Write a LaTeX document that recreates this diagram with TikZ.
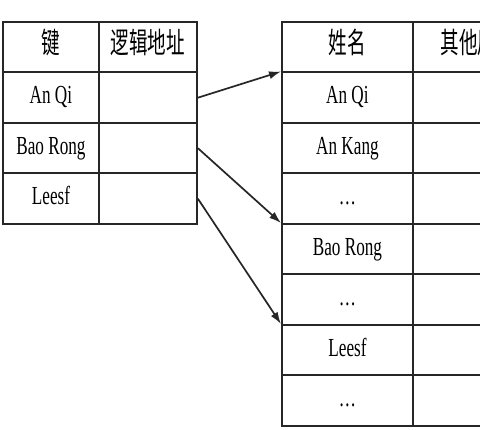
\documentclass[tikz,border=0pt]{standalone}
\usepackage{graphicx}
\usepackage{fontspec}
\setmainfont{Liberation Serif}
\newfontfamily\cjk{Noto Sans CJK SC}
\usetikzlibrary{arrows.meta}
\newcommand{\lt}[1]{\scalebox{0.66}[1]{\fontsize{26}{30}\selectfont #1}}
\newcommand{\ck}[1]{\scalebox{0.64}[1]{\fontsize{29}{30}\selectfont\cjk #1}}
\begin{document}
\begin{tikzpicture}[x=1pt,y=-1pt,
  cell/.style={draw=black!85, line width=1.9pt, minimum width=#1, minimum height=50.5pt,
    inner sep=0pt, anchor=north west, text height=17pt, text depth=5pt},
  arr/.style={draw=black!85, line width=1.7pt, -{Latex[length=12pt,width=8pt]}}]
\useasboundingbox (0,0) rectangle (480,430);
\clip (0,0) rectangle (480,430);
% left table
\node[cell=96pt]  (L0a) at (2,21)    {\ck{键}};
\node[cell=98pt]  (L0b) at (98,21)   {\ck{逻辑地址}};
\node[cell=96pt]  (L1a) at (2,71.5)  {\lt{An Qi}};
\node[cell=98pt]  (L1b) at (98,71.5) {};
\node[cell=96pt]  (L2a) at (2,122)   {\lt{Bao Rong}};
\node[cell=98pt]  (L2b) at (98,122)  {};
\node[cell=96pt]  (L3a) at (2,172.5) {\lt{Leesf}};
\node[cell=98pt]  (L3b) at (98,172.5){};
% right table
\node[cell=131pt] (R0a) at (281,21)    {\ck{姓名}};
\node[cell=130pt] (R0b) at (412,21)    {\ck{其他属性}};
\node[cell=131pt] (R1a) at (281,71.5)  {\lt{An Qi}};
\node[cell=130pt] (R1b) at (412,71.5)  {};
\node[cell=131pt] (R2a) at (281,122)   {\lt{An Kang}};
\node[cell=130pt] (R2b) at (412,122)   {};
\node[cell=131pt] (R3a) at (281,172.5) {\lt{\dots}};
\node[cell=130pt] (R3b) at (412,172.5) {};
\node[cell=131pt] (R4a) at (281,223)   {\lt{Bao Rong}};
\node[cell=130pt] (R4b) at (412,223)   {};
\node[cell=131pt] (R5a) at (281,273.5) {\lt{\dots}};
\node[cell=130pt] (R5b) at (412,273.5) {};
\node[cell=131pt] (R6a) at (281,324)   {\lt{Leesf}};
\node[cell=130pt] (R6b) at (412,324)   {};
\node[cell=131pt] (R7a) at (281,374.5) {\lt{\dots}};
\node[cell=130pt] (R7b) at (412,374.5) {};
% arrows
\draw[arr] (L1b.east) -- (R1a.north west);
\draw[arr] (L2b.east) -- (R4a.north west);
\draw[arr] (L3b.east) -- (R6a.north west);
\end{tikzpicture}
\end{document}
